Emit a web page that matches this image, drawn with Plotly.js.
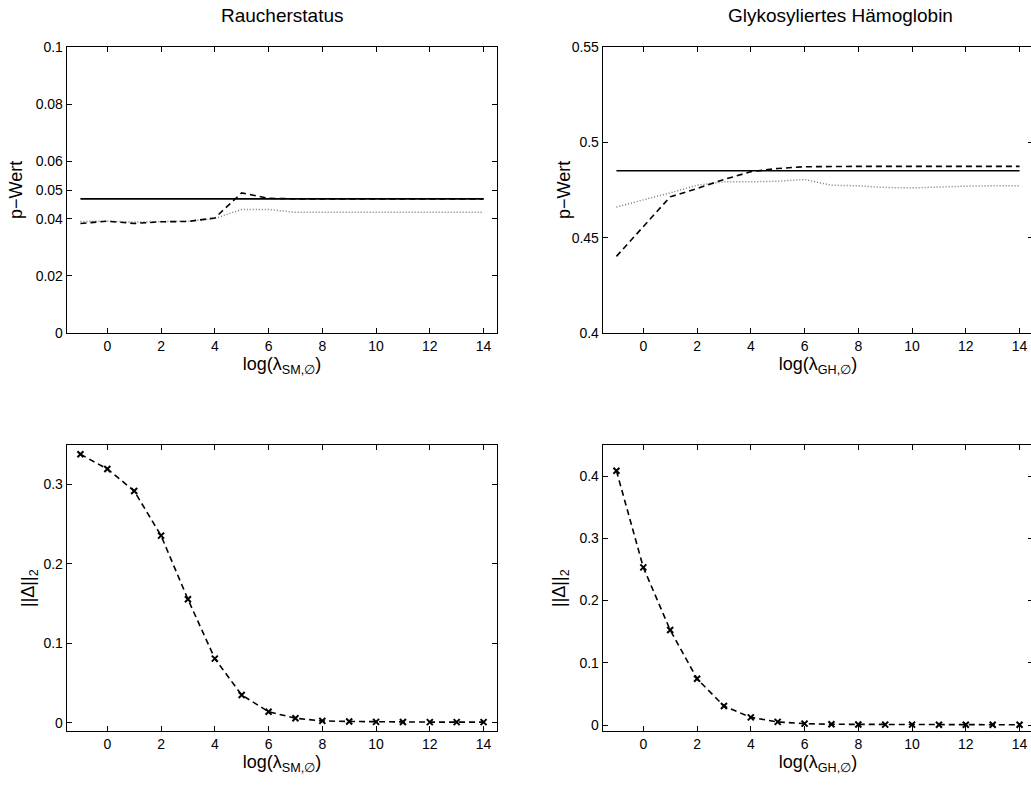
<!DOCTYPE html>
<html><head><meta charset="utf-8">
<script src="https://cdn.plot.ly/plotly-3.0.1.min.js"></script>
<style>html,body{margin:0;padding:0;overflow:hidden;background:#fff}</style>
</head><body>
<div id="chart"></div>
<script>
// x values: log(lambda)
const lambdaLog = [-1,0,1,2,3,4,5,6,7,8,9,10,11,12,13,14];

// Raucherstatus (SM) p-values
const smReference = [0.0469,0.0469,0.0469,0.0469,0.0469,0.0469,0.0469,0.0469,0.0469,0.0469,0.0469,0.0469,0.0469,0.0469,0.0469,0.0469];
const smDashed    = [0.0383,0.0391,0.0383,0.0389,0.0390,0.0402,0.0490,0.0471,0.0469,0.0469,0.0469,0.0469,0.0469,0.0469,0.0469,0.0469];
const smDotted    = [0.0390,0.0391,0.0388,0.0390,0.0391,0.0400,0.0432,0.0432,0.0422,0.0422,0.0422,0.0422,0.0422,0.0422,0.0422,0.0422];
const smNorm      = [0.3378,0.3193,0.2917,0.2354,0.1553,0.0806,0.0348,0.0138,0.0055,0.0022,0.0015,0.0010,0.0008,0.0007,0.0007,0.0007];

// Glykosyliertes Hämoglobin (GH) p-values
const ghReference = [0.4851,0.4851,0.4851,0.4851,0.4851,0.4851,0.4851,0.4851,0.4851,0.4851,0.4851,0.4851,0.4851,0.4851,0.4851,0.4851];
const ghDashed    = [0.4402,0.4556,0.4714,0.4758,0.4805,0.4846,0.4863,0.4872,0.4874,0.4874,0.4874,0.4874,0.4874,0.4874,0.4874,0.4874];
const ghDotted    = [0.4661,0.4696,0.4735,0.4775,0.4793,0.4793,0.4796,0.4805,0.4775,0.4772,0.4763,0.4761,0.4767,0.4770,0.4772,0.4772];
const ghNorm      = [0.4086,0.2533,0.1526,0.0744,0.0305,0.0123,0.0050,0.0022,0.0012,0.0009,0.0007,0.0006,0.0005,0.0005,0.0005,0.0005];

const topTitles = ['Raucherstatus','Glykosyliertes Hämoglobin'];
const xLabels = ['log(λ<sub>SM,∅</sub>)','log(λ<sub>GH,∅</sub>)'];
const yLabels = ['p−Wert','||Δ||<sub>2</sub>'];
const pTicksSM = [0,0.02,0.04,0.05,0.06,0.08,0.1];
const pTickTextSM = ['0','0.02','0.04','0.05','0.06','0.08','0.1'];
const pTicksGH = [0.4,0.45,0.5,0.55];
const pTickTextGH = ['0.4','0.45','0.5','0.55'];
const normTicksSM = [0,0.1,0.2,0.3];
const normTicksGH = [0,0.1,0.2,0.3,0.4];
const xTicks = [0,2,4,6,8,10,12,14];

const FONT = '"Liberation Sans", Arial, sans-serif';
const solid = {color:'#000', width:1.6, dash:'solid'};
const dashed = {color:'#000', width:1.6, dash:'6px,4px'};
const dotted = {color:'#777777', width:1.5, dash:'1px,2px'};
const xMarker = {symbol:'x-thin-open', size:6, color:'#000', line:{width:2,color:'#000'}};

const traces = [
  {x:lambdaLog, y:smReference, xaxis:'x', yaxis:'y', mode:'lines', line:solid},
  {x:lambdaLog, y:smDotted, xaxis:'x', yaxis:'y', mode:'lines', line:dotted},
  {x:lambdaLog, y:smDashed, xaxis:'x', yaxis:'y', mode:'lines', line:dashed},
  {x:lambdaLog, y:ghReference, xaxis:'x2', yaxis:'y2', mode:'lines', line:solid},
  {x:lambdaLog, y:ghDotted, xaxis:'x2', yaxis:'y2', mode:'lines', line:dotted},
  {x:lambdaLog, y:ghDashed, xaxis:'x2', yaxis:'y2', mode:'lines', line:dashed},
  {x:lambdaLog, y:smNorm, xaxis:'x3', yaxis:'y3', mode:'lines+markers', line:dashed, marker:xMarker},
  {x:lambdaLog, y:ghNorm, xaxis:'x4', yaxis:'y4', mode:'lines+markers', line:dashed, marker:xMarker}
];

const W = 1040, H = 785, ML = 67, MR = 7, MT = 47, MB = 54;
const PW = W-ML-MR, PH = H-MT-MB;
const dxL = [0, 430/PW], dxR = [(603-ML)/PW, 1];
const dyT = [(731-333)/PH, 1], dyB = [0, (731-445)/PH];
const px2x = p => (p-ML)/PW;
const py2y = p => (H-MB-p)/PH;

function xa(domain, anchor, label){
  return {domain, anchor, range:[-1.5,14.5], tickvals:xTicks, ticks:'inside', ticklen:5,
    showline:true, mirror:'ticks', linecolor:'#000', linewidth:1.3, tickcolor:'#000',
    showgrid:false, zeroline:false, tickfont:{family:FONT,size:14,color:'#000'},
    title:{text:label, font:{family:FONT,size:18,color:'#000'}, standoff:1}};
}
function ya(domain, anchor, range, tv, tt){
  const o = {domain, anchor, range, tickvals:tv, ticks:'inside', ticklen:5,
    showline:true, mirror:'ticks', linecolor:'#000', linewidth:1.3, tickcolor:'#000',
    showgrid:false, zeroline:false, tickfont:{family:FONT,size:14,color:'#000'}};
  if (tt) o.ticktext = tt;
  return o;
}
function yTitle(text, pxCenter, pyCenter){
  return {text, xref:'paper', yref:'paper', x:px2x(pxCenter), y:py2y(pyCenter), xanchor:'center', yanchor:'middle',
    textangle:-90, showarrow:false, font:{family:FONT,size:18,color:'#000'}};
}
function topTitle(text, pxCenter){
  return {text, xref:'paper', yref:'paper', x:px2x(pxCenter), y:py2y(15), xanchor:'center', yanchor:'middle',
    showarrow:false, font:{family:FONT,size:19,color:'#000'}};
}

const layout = {
  width:W, height:H, margin:{l:ML, r:MR, t:MT, b:MB},
  paper_bgcolor:'#fff', plot_bgcolor:'#fff', showlegend:false,
  font:{family:FONT, color:'#000'},
  xaxis: xa(dxL,'y',xLabels[0]),
  yaxis: ya(dyT,'x',[0,0.1],pTicksSM,pTickTextSM),
  xaxis2: xa(dxR,'y2',xLabels[1]),
  yaxis2: ya(dyT,'x2',[0.4,0.55],pTicksGH,pTickTextGH),
  xaxis3: xa(dxL,'y3',xLabels[0]),
  yaxis3: ya(dyB,'x3',[-0.0105,0.3495],normTicksSM,null),
  xaxis4: xa(dxR,'y4',xLabels[1]),
  yaxis4: ya(dyB,'x4',[-0.0096,0.45],normTicksGH,null),
  annotations: [
    topTitle(topTitles[0], 282),
    topTitle(topTitles[1], 840),
    yTitle(yLabels[0], 16, 190),
    yTitle(yLabels[0], 564, 190),
    yTitle(yLabels[1], 29, 588),
    yTitle(yLabels[1], 560, 588)
  ]
};

Plotly.newPlot('chart', traces, layout, {displayModeBar:false, staticPlot:true});
</script>
</body></html>
